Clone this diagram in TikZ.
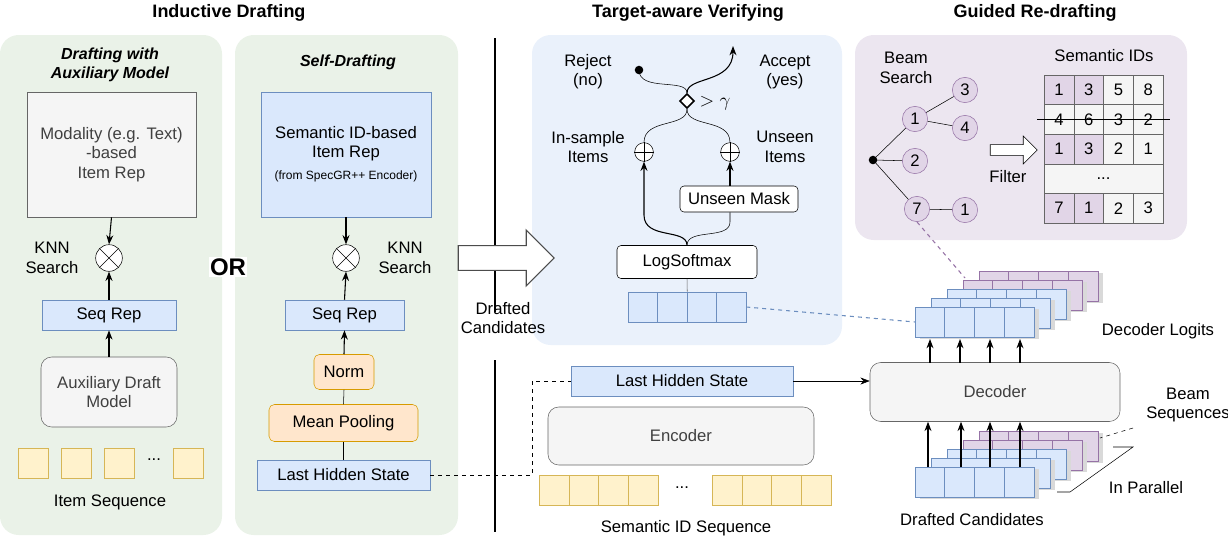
\documentclass[tikz,border=0pt]{standalone}
\usepackage{fontspec}
\setmainfont{Liberation Sans}
\usetikzlibrary{shapes.geometric,shapes.arrows,arrows.meta}
\definecolor{pgreen}{HTML}{EAF2E8}
\definecolor{pblue}{HTML}{EAF1FB}
\definecolor{ppurp}{HTML}{ECE6F0}
\definecolor{bfill}{HTML}{DAE8FC}
\definecolor{bline}{HTML}{6C8EBF}
\definecolor{ofill}{HTML}{FFE6CC}
\definecolor{oline}{HTML}{D79B00}
\definecolor{yfill}{HTML}{FFF2CC}
\definecolor{yline}{HTML}{D6B656}
\definecolor{mfill}{HTML}{E1D5E7}
\definecolor{mline}{HTML}{9673A6}
\definecolor{gfill}{HTML}{F5F5F5}
\begin{document}
\begin{tikzpicture}[x=0.75pt,y=-0.75pt,font=\fontsize{12.5}{14.5}\selectfont,
 bbox/.style={draw=bline,fill=bfill,inner sep=0},
 obox/.style={draw=oline,fill=ofill,rounded corners=4pt,inner sep=0},
 gbox/.style={draw=black!60,fill=gfill,rounded corners=8pt,inner sep=0},
 wbox/.style={draw=black,fill=white,rounded corners=3pt,inner sep=0},
 ybox/.style={draw=yline,fill=yfill},
 op/.style={circle,draw,fill=white,minimum size=20pt,inner sep=0},
 tn/.style={circle,draw=mline,fill=mfill,minimum size=19pt,inner sep=0},
 arr/.style={-{Stealth[length=7pt]},thick},
 ttl/.style={font=\fontsize{13.5}{16}\selectfont\bfseries},
 lbl/.style={align=center}]
\useasboundingbox (0,0) rectangle (1228,540);
% panels
\fill[pgreen,rounded corners=14pt] (0,35) rectangle (222,535);
\fill[pgreen,rounded corners=14pt] (235,35) rectangle (458,535);
\fill[pblue,rounded corners=14pt] (532,35) rectangle (842,345);
\fill[ppurp,rounded corners=14pt] (855,35) rectangle (1187,240);
% headers
\node[ttl] (h1) at (229,13) {Inductive Drafting};
\node[ttl] (h2) at (688,13) {Target-aware Verifying};
\node[ttl] (h3) at (1035,13) {Guided Re-drafting};
\draw[thick] (495,38) -- (495,312);
\draw[thick] (495,360) -- (495,532);
% panel 1
\node[lbl,font=\fontsize{12}{14}\selectfont\bfseries\itshape] (t1) at (110,65) {Drafting with\\Auxiliary Model};
\node[draw=black!60,fill=gfill,minimum width=169pt*0.75,minimum height=125*0.75pt,lbl,text=black!75] (mod) at (111.5,154.5) {Modality (e.g. Text)\\-based\\Item Rep};
\node[op] (k1) at (109,258) {};
\draw (k1.45)--(k1.225) (k1.135)--(k1.315);
\node[lbl] (kl1) at (52,258) {KNN\\Search};
\node[bbox,minimum width=134*0.75pt,minimum height=30*0.75pt] (s1) at (109,315) {Seq Rep};
\node[gbox,lbl,minimum width=136*0.75pt,minimum height=70*0.75pt,text=black!75] (aux) at (109,392) {Auxiliary Draft\\Model};
\foreach \x/\n in {33/a,76/b,119/c,188/d}{\node[ybox,minimum size=30*0.75pt,inner sep=0] (it\n) at (\x,463) {};}
\node (dots1) at (154,460) {...};
\node (iseq) at (110,502) {Item Sequence};
\draw[arr] (mod.south) -- (k1.north);
\draw[arr] (s1.north) -- (k1.south);
\draw[arr] (aux.north) -- (s1.south);
% OR
\node[fill=white,font=\fontsize{18}{20}\selectfont\bfseries,inner sep=1pt] (or) at (228,267) {OR};
% panel 2
\node[font=\fontsize{12}{14}\selectfont\bfseries\itshape] (t2) at (348,62) {Self-Drafting};
\node[bbox,minimum width=170*0.75pt,minimum height=125*0.75pt,lbl] (sem) at (346,154.5) {Semantic ID-based\\Item Rep\\[2pt]{\fontsize{9}{11}\selectfont (from SpecGR++ Encoder)}};
\node[op] (k2) at (346,258) {};
\draw (k2.45)--(k2.225) (k2.135)--(k2.315);
\node[lbl] (kl2) at (405,258) {KNN\\Search};
\node[bbox,minimum width=119*0.75pt,minimum height=30*0.75pt] (s2) at (344.5,315) {Seq Rep};
\node[obox,minimum width=60*0.75pt,minimum height=35*0.75pt] (norm) at (344,372) {Norm};
\node[obox,minimum width=149*0.75pt,minimum height=37*0.75pt] (mp) at (343.5,423) {Mean Pooling};
\node[bbox,minimum width=173*0.75pt,minimum height=30*0.75pt] (lhs1) at (343.5,475) {Last Hidden State};
\draw[arr] (sem.south) -- (k2.north);
\draw[arr] (s2.north) -- (k2.south);
\draw[arr] (norm.north) -- (s2.south);
\draw (mp.north) -- (norm.south);
\draw (lhs1.north) -- (mp.south);
% big arrow
\node[single arrow,draw=black!70,fill=white,minimum height=96*0.75pt,minimum width=56*0.75pt,single arrow head extend=8pt,inner sep=6pt,line width=0.8pt] (big) at (500,258) {};
\node[lbl] (dc) at (503,318) {Drafted\\Candidates};
% verifying
\node[wbox,minimum width=140*0.75pt,minimum height=33*0.75pt] (ls) at (687,262) {LogSoftmax};
\node[wbox,minimum width=118*0.75pt,minimum height=26*0.75pt] (um) at (739,199) {Unseen Mask};
\node[op,minimum size=14pt] (p1) at (644,152) {};
\draw (p1.north)--(p1.south) (p1.west)--(p1.east);
\node[op,minimum size=14pt] (p2) at (730,152) {};
\draw (p2.north)--(p2.south) (p2.west)--(p2.east);
\foreach \i in {0,1,2,3}{\node[bbox,minimum width=29.5*0.75pt,minimum height=30*0.75pt] (lc\i) at (642.75+29.5*\i,307) {};}
\draw[black!60] (lc1.north east) -- (ls.south);
\draw[arr] (ls.north) .. controls (687,228) and (644,240) .. (644,215) -- (p1.south);
\draw (ls.north) .. controls (687,228) and (730,240) .. (730,222) -- (um.south -| p2);
\draw[arr] (um.north -| p2) -- (p2.south);
\node[diamond,draw,fill=white,very thick,minimum size=11pt,inner sep=0] (dia) at (687,101) {};
\draw (p1.north) .. controls (644,118) and (687,128) .. (dia.south);
\draw (p2.north) .. controls (730,118) and (687,128) .. (dia.south);
\coordinate (rj) at (639,70);
\fill (rj) circle (3.2pt);
\coordinate (ac) at (733,46);
\draw (dia.north) .. controls (687,78) and (639,92) .. (rj);
\draw[arr] (dia.north) .. controls (687,76) and (733,84) .. (ac);
\node[lbl] (rej) at (588,72) {Reject\\(no)};
\node[lbl] (acc) at (785,72) {Accept\\(yes)};
\node[font=\fontsize{14}{16}\selectfont] (gam) at (715,103) {$>\gamma$};
\node[lbl] (ins) at (588,147) {In-sample\\Items};
\node[lbl] (uns) at (785,147) {Unseen\\Items};
% purple panel
\node[lbl] (bs) at (906,68) {Beam\\Search};
\coordinate (root) at (873,160);
\fill (root) circle (3.2pt);
\node[tn] (n1) at (915,119) {1};
\node[tn] (n2) at (915,161) {2};
\node[tn] (n7) at (917,209) {7};
\node[tn] (n3) at (965,90) {3};
\node[tn] (n4) at (965,128) {4};
\node[tn] (n8) at (965,210) {1};
\draw (root) -- (n1) (root) -- (n2) (root) -- (n7) (n1) -- (n3) (n1) -- (n4) (n7) -- (n8);
\node (sid) at (1104,56) {Semantic IDs};
\foreach \r/\a/\b/\c/\d/\pur in {0/1/3/5/8/1,1/4/6/3/2/0,2/1/3/2/1/1,4/7/1/2/3/1}{
  \foreach \cc/\v in {0/\a,1/\b,2/\c,3/\d}{
    \pgfmathsetmacro{\fl}{(\pur==1 && \cc<2) ? 1 : 0}
    \ifdim\fl pt>0.5pt
      \node[draw=black!60,fill=mfill,minimum width=29.75*0.75pt,minimum height=29.6*0.75pt,inner sep=0] (c\r\cc) at (1058.9+29.75*\cc,89.8+29.6*\r) {\v};
    \else
      \node[draw=black!60,fill=gfill,minimum width=29.75*0.75pt,minimum height=29.6*0.75pt,inner sep=0] (c\r\cc) at (1058.9+29.75*\cc,89.8+29.6*\r) {\v};
    \fi
  }}
\node[draw=black!60,fill=gfill,minimum width=119*0.75pt,minimum height=29.6*0.75pt,inner sep=0] (cdots) at (1103.5,178.6) {...};
\draw (1037,119.4) -- (1170,119.4);
\node[single arrow,draw,fill=white,minimum height=47*0.75pt,minimum width=28*0.75pt,single arrow head extend=5pt,inner sep=3pt] (filt) at (1011,150) {};
\node (ft) at (1008,177) {Filter};
% decoder logits stack
\foreach \k/\col/\lc in {4/mfill/mline,3/mfill/mline,2/bfill/bline,1/bfill/bline,0/bfill/bline}{
  \foreach \i in {0,1,2,3}{
    \fill[black!15] ({917+29.75*\i+16*\k+3},{309-9*\k}) rectangle +(29.75,30);
    \draw[draw=\lc,fill=\col] ({915+29.75*\i+16*\k},{307-9*\k}) rectangle +(29.75,30);
  }}
\coordinate (dl0) at (915,322);
\node (dlog) at (1158,331) {Decoder Logits};
\draw[dashed,bline,thick] (lc3.east) -- (dl0);
\draw[dashed,mline,thick] (n7.south) -- (965,278);
% decoder
\node[gbox,minimum width=250*0.75pt,minimum height=59*0.75pt,text=black!75] (dec) at (995,392) {Decoder};
\foreach \x in {930,960,990,1020}{\draw[arr] (\x,363) -- (\x,339);}
% drafted candidates stack
\foreach \k/\col/\lc in {4/mfill/mline,3/mfill/mline,2/bfill/bline,1/bfill/bline,0/bfill/bline}{
  \foreach \i in {0,1,2,3}{
    \fill[black!15] ({917+29.75*\i+16*\k+3},{469-9*\k}) rectangle +(29.75,30);
    \draw[draw=\lc,fill=\col] ({915+29.75*\i+16*\k},{467-9*\k}) rectangle +(29.75,30);
  }}
\foreach \x in {928,961,990,1020}{\draw[arr] (\x,467) -- (dec.south -| \x,0);}
\node (dcand) at (972,520) {Drafted Candidates};
\node (inp) at (1146,488) {In Parallel};
\draw (1057,492) -- (1070,492) -- (1133,447) -- (1113,447);
\node[lbl] (bsq) at (1188,405) {Beam\\Sequences};
\draw[dashed] (1133,428) -- (1100,438);
% encoder
\node[bbox,minimum width=222*0.75pt,minimum height=30*0.75pt] (lhs2) at (682,381) {Last Hidden State};
\node[gbox,minimum width=266*0.75pt,minimum height=58*0.75pt,text=black!75] (enc) at (681,436) {Encoder};
\foreach \i in {0,1,2,3}{
  \draw[yline,fill=yfill] (539+29.8*\i,475) rectangle +(29.8,30);
  \draw[yline,fill=yfill] (712+29.8*\i,475) rectangle +(29.8,30);}
\node (dots2) at (682,488) {...};
\node (sseq) at (686,528) {Semantic ID Sequence};
\draw[dashed] (lhs1.east) -- (532,475) -- (532,381) -- (lhs2.west);
\draw[arr,thin] (lhs2.east) -- (dec.west |- lhs2.east);
\end{tikzpicture}
\end{document}
